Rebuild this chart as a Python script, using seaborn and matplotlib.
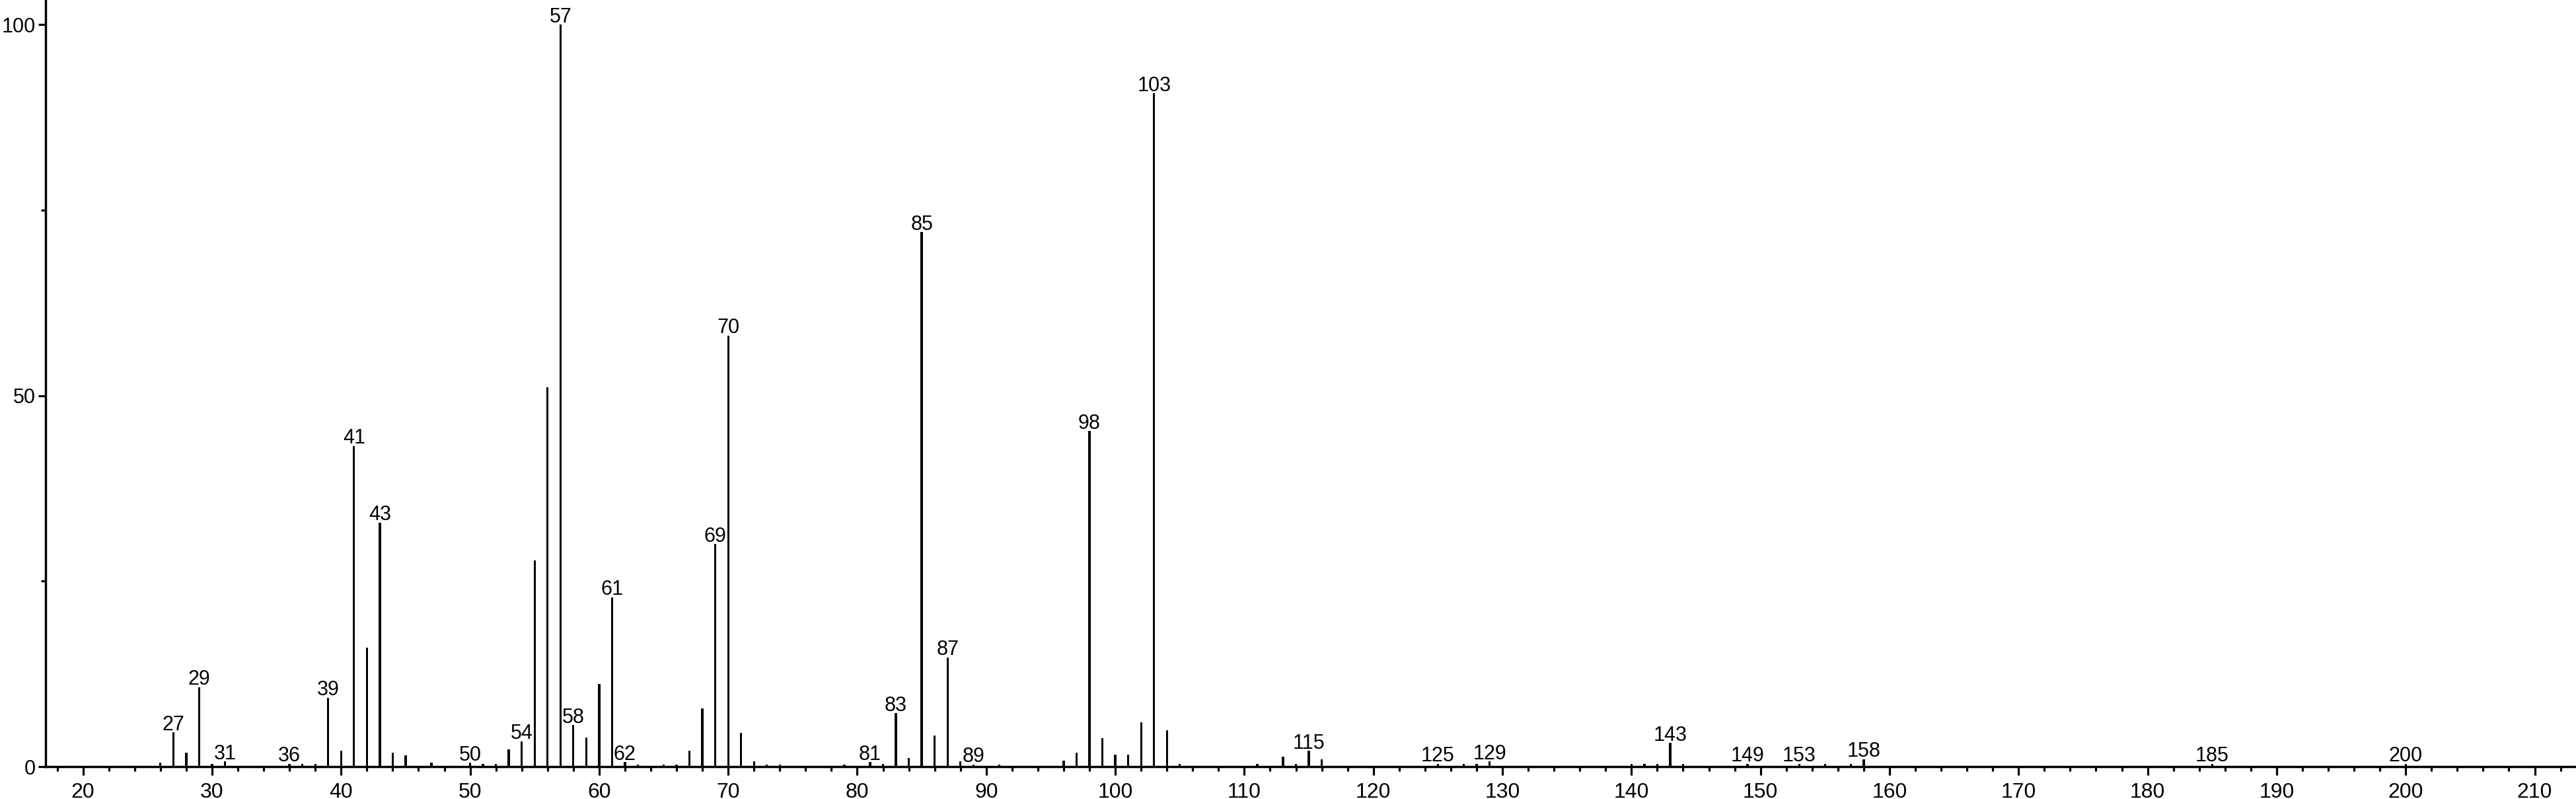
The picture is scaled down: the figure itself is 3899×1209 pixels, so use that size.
import numpy as np
import pandas as pd
import seaborn as sns
import matplotlib.pyplot as plt
from matplotlib.ticker import MultipleLocator

# peak list (m/z, relative intensity)
mz = [26, 27, 28, 29, 30, 31, 36, 37, 38, 39, 40, 41, 42, 43, 44, 45, 47,
      50, 51, 52, 53, 54, 55, 56, 57, 58, 59, 60, 61, 62, 63, 65, 66, 67, 68,
      69, 70, 71, 72, 73, 74, 79, 81, 82, 83, 84, 85, 86, 87, 88, 89, 91,
      96, 97, 98, 99, 100, 101, 102, 103, 104, 105,
      111, 113, 114, 115, 116, 125, 127, 128, 129, 140, 141, 142, 143, 144,
      149, 153, 155, 157, 158, 185, 200]
intensity = [0.5, 4.6, 1.9, 10.7, 0.4, 0.7, 0.4, 0.4, 0.4, 9.3, 2.1, 43.2, 16.0, 32.9, 1.9, 1.5, 0.5,
             0.5, 0.4, 0.4, 2.3, 3.4, 27.8, 51.1, 100.0, 5.6, 3.9, 11.1, 22.8, 0.6, 0.3, 0.3, 0.3, 2.1, 7.8,
             30.0, 58.1, 4.5, 0.7, 0.3, 0.3, 0.3, 0.6, 0.4, 7.2, 1.2, 72.0, 4.2, 14.7, 0.7, 0.3, 0.3,
             0.8, 1.9, 45.2, 3.8, 1.6, 1.6, 6.0, 90.7, 4.9, 0.4,
             0.4, 1.3, 0.4, 2.1, 1.0, 0.4, 0.4, 0.4, 0.7, 0.4, 0.4, 0.4, 3.2, 0.4,
             0.4, 0.4, 0.4, 0.4, 1.0, 0.4, 0.4]
labeled_mz = [27, 29, 31, 36, 39, 41, 43, 50, 54, 57, 58, 61, 62, 69, 70, 81, 83,
              85, 87, 89, 98, 103, 115, 125, 129, 143, 149, 153, 158, 185, 200]

x_major = list(range(20, 211, 10))
y_major = [0, 50, 100]

df = pd.DataFrame({"mz": mz, "intensity": intensity})

sns.set_style("ticks")
plt.rcParams['font.family'] = ['Liberation Sans', 'DejaVu Sans']

fig = plt.figure(figsize=(38.99, 12.09), dpi=100)
ax = fig.add_axes([69 / 3899, 49 / 1209, 1 - 69 / 3899, 1 - 49 / 1209])

sns.barplot(data=df, x="mz", y="intensity", native_scale=True, width=0.17,
            color="black", linewidth=0, saturation=1, ax=ax)

# peak labels sit just above the top of their stick
for m, v in zip(mz, intensity):
    if m in labeled_mz:
        ax.annotate(str(m), (m, v), xytext=(0, 2.5), textcoords="offset points",
                    ha="center", va="baseline", fontsize=22, color="black",
                    annotation_clip=False)

ax.set_xlim(17.1, 213.2)
ax.set_ylim(0, 103.3)
ax.set_xticks(x_major)
ax.set_xticklabels([str(t) for t in x_major])
ax.xaxis.set_minor_locator(MultipleLocator(2))
ax.set_yticks(y_major)
ax.set_yticklabels([str(t) for t in y_major])
ax.yaxis.set_minor_locator(MultipleLocator(25))
ax.set_xlabel("")
ax.set_ylabel("")

sns.despine(ax=ax)
for side in ["left", "bottom"]:
    ax.spines[side].set_linewidth(2.5)
    ax.spines[side].set_color("black")
ax.tick_params(axis="x", which="major", length=9, width=2.3, labelsize=23,
               colors="black", pad=8.5)
ax.tick_params(axis="y", which="major", length=8, width=2.3, labelsize=22,
               colors="black", pad=3)
ax.tick_params(axis="both", which="minor", length=5, width=2.3, colors="black")

fig.savefig("out.png", dpi=100)
